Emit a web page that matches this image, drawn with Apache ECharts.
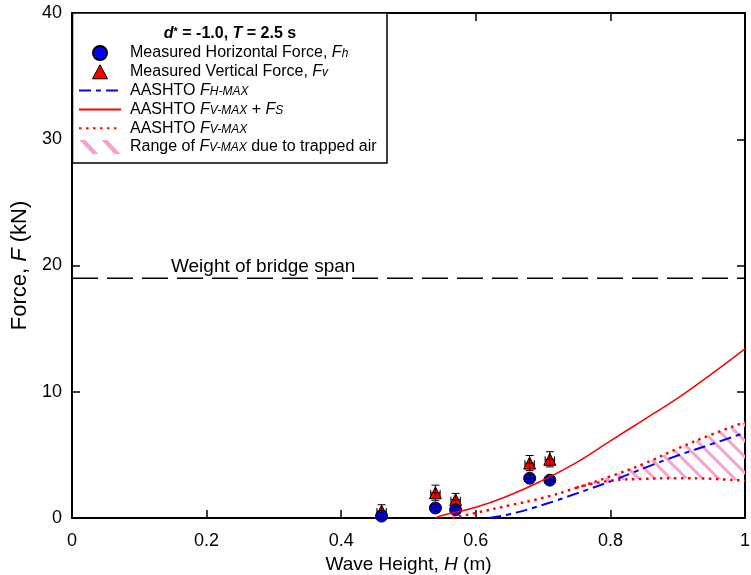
<!DOCTYPE html>
<html><head><meta charset="utf-8">
<script src="https://cdn.jsdelivr.net/npm/echarts/dist/echarts.min.js"></script>
<style>html,body{margin:0;padding:0;background:#fff}#c{width:751px;height:575px}</style>
</head><body><div id="c"></div>
<script>
// ---------- data ----------
const xTicks = [0, 0.2, 0.4, 0.6, 0.8, 1];
const yTicks = [0, 10, 20, 30, 40];
const waveH = [0.46, 0.54, 0.57, 0.68, 0.71];
const forceH = [0.15, 0.8, 0.65, 3.15, 3.0];
const forceV = [0.55, 2.0, 1.45, 4.35, 4.65];
const errV = [0.5, 0.6, 0.5, 0.6, 0.6];
const errHv = [0.25, 0.25, 0.25, 0.3, 0.3];
const errXv = [0.007, 0.007, 0.007, 0.007, 0.007];
const errXh = [0.006, 0.006, 0.006, 0.006, 0.006];
const spanWeight = 19;
const hmaxH = [0.62, 0.65, 0.7, 0.75, 0.8, 0.85, 0.9, 0.95, 1.0];
const hmaxF = [0, 0.3, 1.05, 1.95, 2.9, 3.95, 4.95, 5.85, 6.75];
const vsH = [0.54, 0.55, 0.6, 0.65, 0.7, 0.75, 0.8, 0.85, 0.9, 0.95, 1.0];
const vsF = [0, 0.2, 0.85, 1.8, 3.0, 4.4, 6.1, 7.8, 9.5, 11.4, 13.4];
const vH = [0.565, 0.6, 0.65, 0.7, 0.75, 0.8, 0.85, 0.9, 0.95, 1.0];
const vUpper = [0, 0.4, 1.0, 1.6, 2.4, 3.3, 4.3, 5.5, 6.6, 7.6];
const vLowH = [0.75, 0.8, 0.85, 0.9, 0.95, 1.0];
const vLower = [2.4, 2.95, 3.1, 3.15, 3.1, 2.95];

const FONT = "'Liberation Sans', Arial, sans-serif";
const zip = (a, b) => a.map((v, i) => [v, b[i]]);

// hatch pattern
const hatch = document.createElement('canvas');
hatch.width = 16; hatch.height = 16;
(function () {
  const g = hatch.getContext('2d');
  g.strokeStyle = '#f7a1cf'; g.lineWidth = 3;
  g.beginPath();
  g.moveTo(-2, -2); g.lineTo(18, 18);
  g.moveTo(-2, 14); g.lineTo(2, 18);
  g.moveTo(14, -2); g.lineTo(18, 2);
  g.stroke();
})();

function errRender(capX, capY) {
  return function (params, api) {
    const x = api.value(0), y = api.value(1), ey = api.value(2), ex = api.value(3);
    const top = api.coord([x, y + ey]), bot = api.coord([x, y - ey]);
    const l = api.coord([x - ex, y]), r = api.coord([x + ex, y]);
    const segs = [
      [top, bot],
      [[top[0] - capX, top[1]], [top[0] + capX, top[1]]],
      [[bot[0] - capX, bot[1]], [bot[0] + capX, bot[1]]],
      [l, r],
      [[l[0], l[1] - capY], [l[0], l[1] + capY]],
      [[r[0], r[1] - capY], [r[0], r[1] + capY]]
    ];
    return {
      type: 'group',
      children: segs.map(s => ({
        type: 'line',
        shape: { x1: s[0][0], y1: s[0][1], x2: s[1][0], y2: s[1][1] },
        style: { stroke: '#000', lineWidth: 1 }
      }))
    };
  };
}

const subStyle = { fontSize: 12, fontStyle: 'italic', fontFamily: FONT, color: '#000', lineHeight: 8, verticalAlign: 'bottom' };
const itStyle = { fontSize: 16, fontStyle: 'italic', fontFamily: FONT, color: '#000', lineHeight: 14 };
const nStyle = { fontSize: 16, fontFamily: FONT, color: '#000', lineHeight: 14 };
const legendText = {
  'Fh': '{n|Measured Horizontal Force, }{i|F}{s|h}',
  'Fv': '{n|Measured Vertical Force, }{i|F}{s|v}',
  'FH': '{n|AASHTO }{i|F}{s|H-MAX}',
  'FVS': '{n|AASHTO }{i|F}{s|V-MAX}{n| + }{i|F}{s|S}',
  'FV': '{n|AASHTO }{i|F}{s|V-MAX}',
  'R': '{n|Range of }{i|F}{s|V-MAX}{n| due to trapped air}'
};

const axisCommon = {
  axisLine: { show: true, onZero: false, lineStyle: { color: '#000', width: 2 } },
  axisTick: { show: true, inside: true, length: 8, lineStyle: { color: '#000', width: 1.5 } },
  splitLine: { show: false }
};
const noSym = { opacity: 0 };

const chart = echarts.init(document.getElementById('c'));
const option = {
  animation: false,
  backgroundColor: '#fff',
  grid: { left: 72, right: 6, top: 13, bottom: 57, containLabel: false, outerBoundsMode: 'none' },
  xAxis: [
    Object.assign({
      type: 'value', min: xTicks[0], max: xTicks[xTicks.length - 1], interval: xTicks[1] - xTicks[0],
      position: 'bottom',
      axisLabel: { fontSize: 18, fontFamily: FONT, color: '#000', margin: 14, formatter: v => String(+v.toFixed(1)) },
      name: 'Wave Height, {i|H} (m)', nameLocation: 'middle', nameGap: 37,
      nameTextStyle: { fontSize: 19, fontFamily: FONT, color: '#000', rich: { i: { fontSize: 19, fontStyle: 'italic', fontFamily: FONT, color: '#000' } } }
    }, axisCommon),
    Object.assign({
      type: 'value', min: xTicks[0], max: xTicks[xTicks.length - 1], interval: xTicks[1] - xTicks[0],
      position: 'top', axisLabel: { show: false }
    }, axisCommon)
  ],
  yAxis: [
    Object.assign({
      type: 'value', min: yTicks[0], max: yTicks[yTicks.length - 1], interval: yTicks[1] - yTicks[0],
      position: 'left',
      axisLabel: { fontSize: 18, fontFamily: FONT, color: '#000', margin: 10 },
      name: 'Force, {i|F} (kN)', nameLocation: 'middle', nameGap: 40,
      nameTextStyle: { fontSize: 22, fontFamily: FONT, color: '#000', rich: { i: { fontSize: 22, fontStyle: 'italic', fontFamily: FONT, color: '#000' } } }
    }, axisCommon),
    Object.assign({
      type: 'value', min: yTicks[0], max: yTicks[yTicks.length - 1], interval: yTicks[1] - yTicks[0],
      position: 'right', axisLabel: { show: false }
    }, axisCommon)
  ],
  legend: {
    orient: 'vertical', left: 73, top: 40, itemWidth: 42, itemHeight: 14, itemGap: 2.8,
    selectedMode: false, z: 20, symbolKeepAspect: true,
    data: [
      { name: 'Fh' },
      { name: 'Fv', icon: 'path://M7,0L14,13L0,13Z', itemStyle: { color: '#ff0000', borderColor: '#000', borderWidth: 1 } },
      { name: 'FH', itemStyle: noSym }, { name: 'FVS', itemStyle: noSym }, { name: 'FV', itemStyle: noSym },
      { name: 'R', icon: 'path://M0,0L6,0L19,14L13,14Z M22,0L28,0L41,14L35,14Z', itemStyle: { color: '#f7a1cf' } }
    ],
    formatter: n => legendText[n],
    textStyle: { fontSize: 16, fontFamily: FONT, color: '#000', lineHeight: 14, padding: [0, 0, 0, 4], rich: { i: itStyle, s: subStyle, n: nStyle } }
  },
  graphic: [
    { type: 'rect', z: 10, shape: { x: 72.5, y: 13, width: 314.5, height: 150 }, style: { fill: '#fff', stroke: '#000', lineWidth: 1.5 } },
    {
      type: 'text', z: 21, x: 230, y: 34,
      style: {
        text: '{bi|d}{sup|*}{b| = -1.0, }{bi|T}{b| = 2.5 s}', align: 'center', verticalAlign: 'middle',
        rich: {
          b: { fontSize: 16, fontWeight: 'bold', fontFamily: FONT, fill: '#000', lineHeight: 16 },
          bi: { fontSize: 16, fontWeight: 'bold', fontStyle: 'italic', fontFamily: FONT, fill: '#000', lineHeight: 16 },
          sup: { fontSize: 11, fontWeight: 'bold', fontFamily: FONT, fill: '#000', lineHeight: 8, verticalAlign: 'top' }
        }
      }
    }
  ],
  series: [
    {
      name: 'Fv', type: 'scatter', z: 3, symbol: 'triangle', symbolSize: 12, symbolKeepAspect: true,
      itemStyle: { color: '#ff0000', borderColor: '#000', borderWidth: 1, opacity: 1 },
      data: zip(waveH, forceV)
    },
    {
      name: 'errV', type: 'custom', z: 4, renderItem: errRender(4, 3),
      data: waveH.map((x, i) => [x, forceV[i], errV[i], errXv[i]])
    },
    {
      name: 'Fh', type: 'scatter', z: 5, symbol: 'circle', symbolSize: 12, symbolKeepAspect: true,
      itemStyle: { color: '#0000ff', borderColor: '#000', borderWidth: 1, opacity: 1 },
      data: zip(waveH, forceH)
    },
    {
      name: 'errH', type: 'custom', z: 6, renderItem: errRender(3, 3),
      data: waveH.map((x, i) => [x, forceH[i], errHv[i], errXh[i]])
    },
    {
      name: 'R', type: 'custom', z: 7,
      itemStyle: { color: '#f7a1cf' },
      data: [[0.9, 4]],
      renderItem: function (params, api) {
        const pts = [];
        for (let i = 0; i < vH.length; i++) if (vH[i] >= vLowH[0]) pts.push(api.coord([vH[i], vUpper[i]]));
        for (let i = vLowH.length - 1; i >= 0; i--) pts.push(api.coord([vLowH[i], vLower[i]]));
        return { type: 'polygon', shape: { points: pts }, style: { fill: { image: hatch, repeat: 'repeat' }, stroke: null } };
      }
    },
    {
      name: 'weight', type: 'line', z: 8, symbol: 'none', silent: true,
      lineStyle: { color: '#000', width: 1.5, type: [26, 9] },
      data: [[xTicks[0], spanWeight], [xTicks[xTicks.length - 1], spanWeight]]
    },
    {
      name: 'FH', type: 'line', z: 9, symbol: 'none', smooth: true,
      lineStyle: { color: '#0000ff', width: 2, type: [12, 5, 5, 5] }, itemStyle: { color: '#0000ff' },
      data: zip(hmaxH, hmaxF)
    },
    {
      name: 'FV', type: 'line', z: 9, symbol: 'none', smooth: true,
      lineStyle: { color: '#ff0000', width: 2.5, type: [2.5, 4.5] }, itemStyle: { color: '#ff0000' },
      data: zip(vH, vUpper)
    },
    {
      name: 'FVlow', type: 'line', z: 9, symbol: 'none', smooth: true,
      lineStyle: { color: '#ff0000', width: 2.5, type: [2.5, 4.5] },
      data: zip(vLowH, vLower)
    },
    {
      name: 'FVS', type: 'line', z: 9, symbol: 'none', smooth: true,
      lineStyle: { color: '#ff0000', width: 1.5 }, itemStyle: { color: '#ff0000' },
      data: zip(vsH, vsF)
    }
  ]
};
chart.setOption(option);
const p = chart.convertToPixel({ gridIndex: 0 }, [0.147, spanWeight + 1]);
chart.setOption({
  graphic: [
    option.graphic[0], option.graphic[1],
    { type: 'text', z: 21, x: p[0], y: p[1] + 1, style: { text: 'Weight of bridge span', fontSize: 19, fontFamily: FONT, fill: '#000', align: 'left', verticalAlign: 'middle' } }
  ]
});
</script>
</body></html>
